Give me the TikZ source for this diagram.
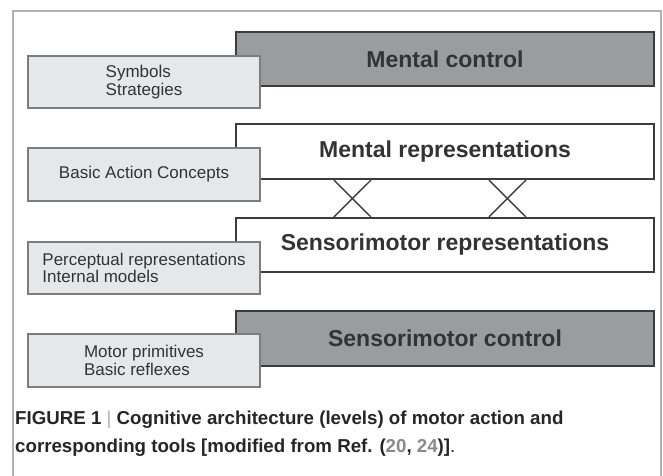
\documentclass[tikz,border=0pt]{standalone}
\usepackage{fontspec}
\setmainfont{Liberation Sans}
\usetikzlibrary{calc}
\definecolor{darkfill}{HTML}{9B9CA0}
\definecolor{darkline}{HTML}{3C3C3C}
\definecolor{lightfill}{HTML}{E6E7E9}
\definecolor{lightline}{HTML}{7D7D7D}
\definecolor{txt}{HTML}{333333}
\definecolor{framec}{HTML}{B0B0B0}
\definecolor{linkc}{HTML}{8A8A8A}
\begin{document}
\begin{tikzpicture}[x=1pt,y=-1pt,
 bigbox/.style={draw=darkline,line width=2.2pt,minimum width=418pt,minimum height=54pt,inner sep=0pt,font=\fontsize{23}{27}\selectfont\bfseries,text=txt},
 ctrlbox/.style={bigbox,fill=darkfill},
 repbox/.style={bigbox,fill=white},
 tagbox/.style={draw=lightline,line width=1.2pt,fill=lightfill,minimum width=232pt,minimum height=53pt,inner sep=0pt,align=left,font=\fontsize{17}{17.5}\selectfont,text=txt},
 xline/.style={draw=darkline,line width=1.4pt},
 framel/.style={draw=framec,line width=1.5pt},
 captxt/.style={anchor=base west,inner sep=0pt,font=\fontsize{18.7}{20}\selectfont\bfseries,text=black!85}]
\useasboundingbox (0,0) rectangle (663,475);
\fill[white] (0,0) rectangle (663,475);
\coordinate (fbl) at (13,476);
\coordinate (ftl) at (13,11);
\coordinate (ftr) at (661,11);
\coordinate (fbr) at (661,476);
\draw[framel] (fbl) -- (ftl) -- (ftr) -- (fbr);

\node[ctrlbox] (mc) at (445,59) {Mental control};
\node[repbox,minimum height=55pt] (mr) at (445,151.5) {Mental representations};
\node[repbox] (sr) at (445,245) {Sensorimotor representations};
\node[ctrlbox,minimum height=55pt] (sc) at (445,338.5) {Sensorimotor control};

\draw[xline] ($(mr.south west)+(99,0)$) -- ($(sr.north west)+(136,0)$);
\draw[xline] ($(mr.south west)+(136,0)$) -- ($(sr.north west)+(99,0)$);
\draw[xline] ($(mr.south west)+(254,0)$) -- ($(sr.north west)+(291,0)$);
\draw[xline] ($(mr.south west)+(291,0)$) -- ($(sr.north west)+(254,0)$);

\node[tagbox,minimum height=52pt] (t1) at (144,82) {Symbols\\Strategies};
\node[tagbox] (t2) at (144,174.5) {Basic Action Concepts};
\node[tagbox,minimum height=52pt] (t3) at (144,268) {Perceptual representations\\Internal models};
\node[tagbox] (t4) at (144,360.5) {Motor primitives\\Basic reflexes};

\node[captxt] (cap1) at (15,424) {FIGURE 1 {\mdseries\color{framec}|} Cognitive architecture (levels) of motor action and};
\node[captxt] (cap2) at (15,452) {corresponding tools [modified from Ref. ({\color{linkc}20}, {\color{linkc}24})]{\mdseries.}};
\end{tikzpicture}
\end{document}
